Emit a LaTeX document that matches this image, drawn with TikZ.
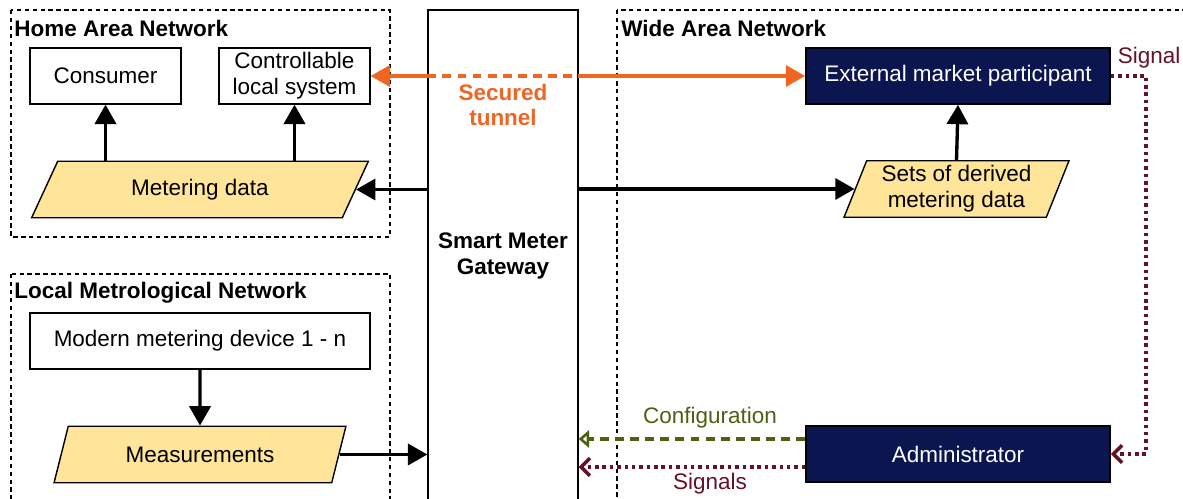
\documentclass[tikz,border=0pt]{standalone}
\usepackage{fontspec}
\setmainfont{Liberation Sans}
\usepackage{tikz}
\usetikzlibrary{arrows.meta,shapes.geometric,positioning}

\definecolor{tunnelorange}{RGB}{240,101,34}
\definecolor{marketnavy}{RGB}{11,22,80}
\definecolor{datayellow}{RGB}{255,229,153}
\definecolor{configgreen}{RGB}{77,97,20}
\definecolor{signalred}{RGB}{100,18,38}

\tikzset{
	netframe/.style={draw, line width=0.8pt, dash pattern=on 2.5pt off 2pt},
	nettitle/.style={anchor=west, font=\fontsize{12.8}{14.7}\selectfont\bfseries, inner sep=0pt},
	unitbox/.style={draw, fill=white, line width=0.8pt, minimum width=3.02cm, minimum height=1.12cm, align=center, inner sep=0pt},
	actorbox/.style={draw, fill=marketnavy, text=white, line width=1pt, minimum width=6.08cm, minimum height=1.12cm, inner sep=0pt},
	databox/.style={trapezium, trapezium stretches, draw, fill=datayellow, line width=0.8pt, minimum height=1.13cm, inner sep=0pt, align=center},
	flow/.style={line width=1.9pt, -{Triangle[length=11pt,width=12pt]}},
	tunnel/.style={draw=tunnelorange, line width=1.9pt},
	sigline/.style={draw=signalred, line width=2pt, dash pattern=on 2pt off 2.2pt},
}

\begin{document}
\begin{tikzpicture}[x=0.02cm, y=-0.02cm, font=\fontsize{12.8}{14.7}\selectfont]
	\useasboundingbox (0,0) rectangle (1183,499);

	\draw[netframe] (11,10) rectangle (390,237);
	\node[nettitle] (hantitle) at (14,28) {Home Area Network};

	\draw[netframe] (11,274) rectangle (390,530);
	\node[nettitle] (lmntitle) at (14,293) {Local Metrological Network};

	\draw[netframe] (617,10) rectangle (1220,530);
	\node[nettitle] (wantitle) at (621,28) {Wide Area Network};

	\node[unitbox, minimum height=9.84cm, minimum width=3cm, font=\fontsize{12.8}{14.7}\selectfont\bfseries] (gw) at (503,256) {Smart Meter\\Gateway};

	% home area network
	\node[unitbox] (cons) at (105.5,76) {Consumer};
	\node[unitbox] (ctrl) at (294.5,76) {Controllable\\local system};
	\node[databox, minimum width=6.8cm, trapezium left angle=59, trapezium right angle=121] (meter) at (200,189.5) {Metering data};

	\draw[flow] (cons.south |- meter.north) -- (cons.south);
	\draw[flow] (ctrl.south |- meter.north) -- (ctrl.south);
	\draw[flow] (gw.west |- meter.east) -- (meter.east);

	% local metrological network
	\node[unitbox, minimum width=6.8cm] (device) at (200,341) {Modern metering device 1 - n};
	\node[databox, minimum width=5.88cm, trapezium left angle=63, trapezium right angle=117] (meas) at (200,454.5) {Measurements};

	\draw[flow] (device.south) -- (meas.north);
	\draw[flow] (meas.east) -- (gw.west |- meas.east);

	% wide area network
	\node[actorbox] (emp) at (958,76) {External market participant};
	\node[databox, minimum width=4.5cm, trapezium left angle=68, trapezium right angle=112] (sets) at (956.5,189) {Sets of derived\\metering data};
	\node[actorbox] (admin) at (958,454) {Administrator};

	\draw[flow] (gw.east |- sets.west) -- (sets.west);
	\draw[flow] (sets.north) -- (emp.south);

	% secured tunnel
	\draw[tunnel, {Triangle[length=11pt,width=12pt]}-] (ctrl.east) -- (ctrl.east -| gw.west);
	\draw[tunnel, dash pattern=on 5pt off 3.6pt] (ctrl.east -| gw.west) -- (ctrl.east -| gw.east);
	\draw[tunnel, -{Triangle[length=11pt,width=12pt]}] (ctrl.east -| gw.east) -- (emp.west);
	\node[text=tunnelorange, font=\fontsize{12.8}{14.7}\selectfont\bfseries, align=center] (tunnellabel) at (503,105) {Secured\\tunnel};

	% signals and configuration
	\coordinate (sigcorner) at (1146,76);
	\draw[sigline, -{Straight Barb[length=5pt,width=10pt]}] (emp.east) -- (sigcorner) -- (sigcorner |- admin.east) -- (admin.east);
	\node[text=signalred] (siglabel) at (1149,58) {Signal};

	\draw[draw=configgreen, line width=2pt, dash pattern=on 5pt off 3.6pt, -{Triangle[open,length=6pt,width=10pt]}] ([yshift=0.3cm]admin.west) -- ([yshift=0.3cm]admin.west -| gw.east);
	\node[text=configgreen] (cfglabel) at (710,418) {Configuration};

	\draw[sigline, -{Straight Barb[length=5pt,width=10pt]}] ([yshift=-0.26cm]admin.west) -- ([yshift=-0.26cm]admin.west -| gw.east);
	\node[text=signalred] (sigslabel) at (710,484) {Signals};
\end{tikzpicture}
\end{document}
